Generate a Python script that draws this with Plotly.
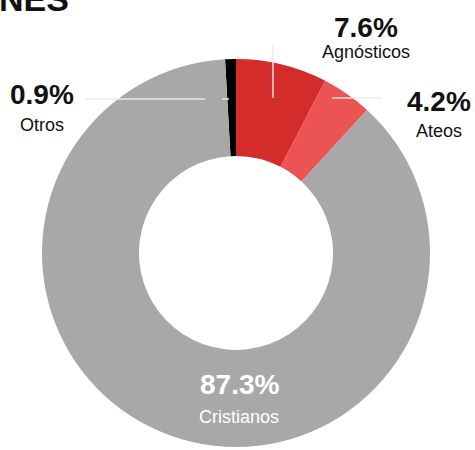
import plotly.graph_objects as go

categories = ["Otros", "Agnósticos", "Ateos", "Cristianos"]
values = [0.9, 7.6, 4.2, 87.3]
colors = ["#000000", "#d42b2b", "#ec5353", "#a8a8a8"]

W, H = 475, 450
# label centre positions in pixels (x, y of percent line, y of name line, colour)
label_pos = {
    "Otros": (42, 94, 125, "#111111"),
    "Agnósticos": (366, 27, 52, "#111111"),
    "Ateos": (439, 101, 131, "#111111"),
    "Cristianos": (239, 384, 417, "#ffffff"),
}

fig = go.Figure()
fig.add_trace(go.Pie(
    labels=categories,
    values=values,
    marker=dict(colors=colors, line=dict(width=0)),
    hole=0.5,
    sort=False,
    direction="clockwise",
    rotation=-values[0] / 100 * 360,
    textinfo="none",
    hoverinfo="label+percent",
    showlegend=False,
    domain=dict(x=[42 / W, 430 / W], y=[1 - 447 / H, 1 - 59 / H]),
))

font_family = "Liberation Sans, Arial, sans-serif"
for cat, val in zip(categories, values):
    px, py1, py2, c = label_pos[cat]
    fig.add_annotation(x=px / W, y=1 - py1 / H, xref="paper", yref="paper", showarrow=False,
                       text=f"<b>{val:.1f}%</b>", font=dict(size=28, color=c, family=font_family),
                       xanchor="center", yanchor="middle")
    fig.add_annotation(x=px / W, y=1 - py2 / H, xref="paper", yref="paper", showarrow=False,
                       text=cat, font=dict(size=18, color=c, family=font_family),
                       xanchor="center", yanchor="middle")

# cut-off title fragment at top-left
fig.add_annotation(x=0.0, y=1.0, xref="paper", yref="paper", showarrow=False,
                   text="<b>NES</b>", font=dict(size=34, color="#111111", family=font_family),
                   xanchor="left", yanchor="bottom", yshift=-20, xshift=-3)

# faint leader lines
line_style = dict(color="rgba(235,235,235,0.95)", width=1.5)
fig.add_shape(type="line", xref="paper", yref="paper",
              x0=273 / W, x1=273 / W, y0=1 - 45 / H, y1=1 - 98 / H, line=line_style)
fig.add_shape(type="line", xref="paper", yref="paper",
              x0=332 / W, x1=382 / W, y0=1 - 98 / H, y1=1 - 98 / H, line=line_style)
fig.add_shape(type="line", xref="paper", yref="paper",
              x0=85 / W, x1=205 / W, y0=1 - 99 / H, y1=1 - 99 / H, line=line_style)
fig.add_shape(type="line", xref="paper", yref="paper",
              x0=222 / W, x1=229 / W, y0=1 - 99 / H, y1=1 - 99 / H, line=line_style)

fig.update_layout(
    width=W, height=H,
    margin=dict(l=0, r=0, t=0, b=0),
    paper_bgcolor="white",
    plot_bgcolor="white",
)

fig.write_html("out.html",
               config={"displayModeBar": False},
               post_script="document.body.style.margin='0';document.body.style.overflow='hidden';")
